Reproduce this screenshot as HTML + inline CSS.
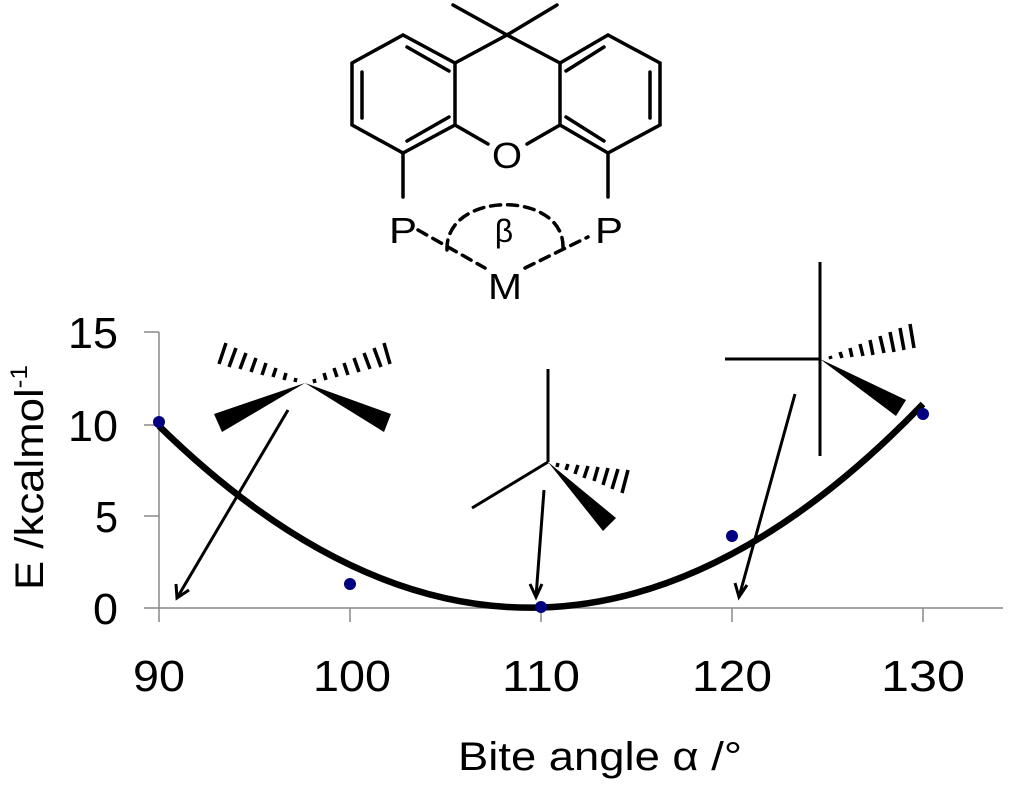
<!DOCTYPE html>
<html><head><meta charset="utf-8"><style>
html,body{margin:0;padding:0;background:#fff;}
svg{display:block;}
text{font-family:"Liberation Sans",sans-serif;fill:#000;}
</style></head><body>
<svg width="1024" height="788" viewBox="0 0 1024 788" xmlns="http://www.w3.org/2000/svg">
<g stroke="#000" stroke-width="3.5" fill="none" stroke-linecap="round">
<polyline points="453,5 507,35 557,5"/>
<polyline points="455,63 507,35 560,63"/>
<polygon points="455,63 403,35 352,63 352,125 403,153 455,125"/>
<line x1="407" y1="47" x2="449" y2="71"/>
<line x1="362" y1="72" x2="362" y2="118"/>
<line x1="407" y1="141" x2="449" y2="117"/>
<polygon points="560,63 608,35 660,63 660,125 608,153 560,125"/>
<line x1="566" y1="71" x2="604" y2="47"/>
<line x1="650" y1="72" x2="650" y2="118"/>
<line x1="566" y1="117" x2="604" y2="141"/>
<line x1="455" y1="125" x2="488" y2="144"/>
<line x1="560" y1="125" x2="527" y2="144"/>
<line x1="403" y1="153" x2="403" y2="197"/>
<line x1="608" y1="153" x2="608" y2="197"/>
<g stroke-dasharray="10,7">
<line x1="418" y1="230" x2="485" y2="268"/>
<line x1="525" y1="268" x2="588" y2="237"/>
<path d="M447,250 C445,190 565,190 563,248"/>
</g>
</g>
<text x="507" y="168" font-size="36" text-anchor="middle" textLength="30" lengthAdjust="spacingAndGlyphs">O</text>
<text x="403" y="243" font-size="36" text-anchor="middle" textLength="28" lengthAdjust="spacingAndGlyphs">P</text>
<text x="609" y="243" font-size="36" text-anchor="middle" textLength="28" lengthAdjust="spacingAndGlyphs">P</text>
<text x="504" y="242" font-size="32" text-anchor="middle">β</text>
<text x="505" y="299" font-size="36" text-anchor="middle" textLength="34" lengthAdjust="spacingAndGlyphs">M</text>

<g stroke="#888" stroke-width="1.5">
<line x1="159" y1="332" x2="159" y2="622"/>
<line x1="144" y1="608" x2="1003" y2="608"/>
<line x1="144" y1="332" x2="159" y2="332"/>
<line x1="144" y1="425" x2="159" y2="425"/>
<line x1="144" y1="516" x2="159" y2="516"/>
<line x1="350" y1="608" x2="350" y2="622"/>
<line x1="541" y1="608" x2="541" y2="622"/>
<line x1="732" y1="608" x2="732" y2="622"/>
<line x1="923" y1="608" x2="923" y2="622"/>
</g>
<g font-size="44">
<text x="68" y="348" textLength="50" lengthAdjust="spacingAndGlyphs">15</text>
<text x="68" y="441" textLength="50" lengthAdjust="spacingAndGlyphs">10</text>
<text x="95" y="532" textLength="23" lengthAdjust="spacingAndGlyphs">5</text>
<text x="93" y="624" textLength="25" lengthAdjust="spacingAndGlyphs">0</text>
</g>
<g font-size="44">
<text x="133" y="691" textLength="52" lengthAdjust="spacingAndGlyphs">90</text>
<text x="313" y="691" textLength="78" lengthAdjust="spacingAndGlyphs">100</text>
<text x="502" y="691" textLength="78" lengthAdjust="spacingAndGlyphs">110</text>
<text x="692" y="691" textLength="80" lengthAdjust="spacingAndGlyphs">120</text>
<text x="881" y="691" textLength="84" lengthAdjust="spacingAndGlyphs">130</text>
</g>
<text x="458" y="770" font-size="40" textLength="284" lengthAdjust="spacingAndGlyphs">Bite angle α /°</text>
<text transform="translate(43,590) rotate(-90)" font-size="40" textLength="225" lengthAdjust="spacingAndGlyphs">E /kcalmol<tspan font-size="24" dy="-16">-1</tspan></text>

<path d="M159,426 Q541,800 923,404" stroke="#000" stroke-width="6.5" fill="none"/>
<g fill="#000080">
<ellipse cx="159" cy="422" rx="6" ry="6"/>
<ellipse cx="350" cy="584" rx="6" ry="6"/>
<ellipse cx="541" cy="607" rx="6" ry="6"/>
<ellipse cx="732" cy="536" rx="6" ry="6"/>
<ellipse cx="923" cy="414" rx="6" ry="6"/>
</g>

<g stroke="#000" stroke-width="3" fill="none">
<line x1="288" y1="410" x2="177" y2="598"/>
<polyline points="176,584 177,598 189,590"/>
<line x1="544" y1="490" x2="536" y2="597"/>
<polyline points="530,584 536,597 542,584"/>
<line x1="795" y1="394" x2="739" y2="597"/>
<polyline points="735,583 739,597 747,585"/>
</g>

<g fill="#000">
<polygon points="305,383 214,414 222,432"/>
<polygon points="305,383 384,432 391,414"/>
</g>
<g stroke="#000" stroke-width="3.5">
<line x1="296" y1="378" x2="295" y2="382"/>
<line x1="286" y1="373" x2="284" y2="380"/>
<line x1="276" y1="368" x2="273" y2="377"/>
<line x1="266" y1="363" x2="262" y2="375"/>
<line x1="256" y1="358" x2="251" y2="372"/>
<line x1="246" y1="353" x2="240" y2="369"/>
<line x1="236" y1="348" x2="229" y2="367"/>
<line x1="226" y1="343" x2="219" y2="364"/>
<line x1="314" y1="379" x2="315" y2="383"/>
<line x1="324" y1="373" x2="326" y2="380"/>
<line x1="334" y1="368" x2="337" y2="377"/>
<line x1="344" y1="363" x2="348" y2="375"/>
<line x1="354" y1="358" x2="359" y2="372"/>
<line x1="364" y1="353" x2="370" y2="369"/>
<line x1="374" y1="348" x2="381" y2="367"/>
<line x1="384" y1="343" x2="390" y2="364"/>
</g>

<g stroke="#000" stroke-width="3">
<line x1="548" y1="369" x2="548" y2="462"/>
<line x1="548" y1="462" x2="472" y2="508"/>
</g>
<g stroke="#000" stroke-width="3.5">
<line x1="558" y1="463" x2="557" y2="467"/>
<line x1="568" y1="464" x2="566" y2="470"/>
<line x1="578" y1="465" x2="575" y2="474"/>
<line x1="588" y1="466" x2="584" y2="478"/>
<line x1="598" y1="467" x2="594" y2="481"/>
<line x1="608" y1="468" x2="603" y2="485"/>
<line x1="618" y1="469" x2="612" y2="489"/>
<line x1="628" y1="470" x2="622" y2="493"/>
</g>
<polygon points="548,462 603,531 616,518" fill="#000"/>

<g stroke="#000" stroke-width="3">
<line x1="820" y1="262" x2="820" y2="456"/>
<line x1="725" y1="359" x2="820" y2="359"/>
</g>
<g stroke="#000" stroke-width="3.5">
<line x1="830" y1="356" x2="831" y2="359"/>
<line x1="840" y1="352" x2="842" y2="358"/>
<line x1="850" y1="348" x2="852" y2="357"/>
<line x1="860" y1="344" x2="863" y2="356"/>
<line x1="870" y1="340" x2="873" y2="355"/>
<line x1="880" y1="336" x2="884" y2="353"/>
<line x1="890" y1="332" x2="894" y2="352"/>
<line x1="900" y1="328" x2="904" y2="350"/>
<line x1="910" y1="324" x2="914" y2="348"/>
</g>
<polygon points="820,359 896,416 906,400" fill="#000"/>
</svg>
</body></html>
